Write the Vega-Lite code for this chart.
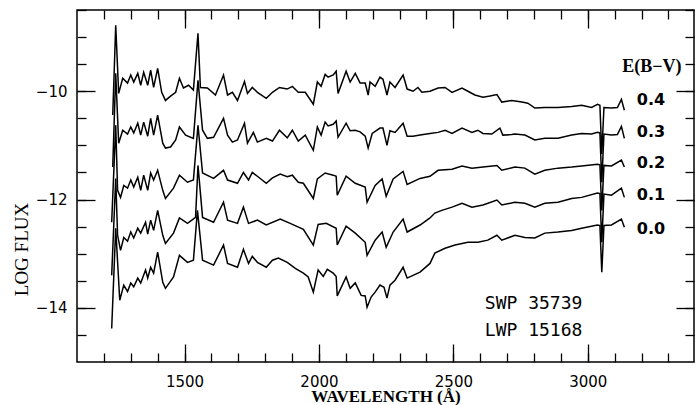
{
"$schema": "https://vega.github.io/schema/vega-lite/v6.json",
"width": 617, "height": 352,
"autosize": {"type": "none"},
"padding": {"left": 77, "top": 10, "right": 5, "bottom": 43},
"background": "white",
"config": {"view": {"stroke": "black", "strokeWidth": 1.5}, "axis": {"grid": false, "domain": false, "ticks": true, "zindex": 1, "tickColor": "black", "tickWidth": 1.3, "labelColor": "black", "labelFont": "DejaVu Sans", "labelFontSize": 15, "titleColor": "black"}},
"datasets": {
"spectra": [
{"ebv":"0.4","wl":1233,"logf":-10.44},{"ebv":"0.4","wl":1244,"logf":-8.78},{"ebv":"0.4","wl":1255,"logf":-10.04},{"ebv":"0.4","wl":1270,"logf":-9.76},{"ebv":"0.4","wl":1288,"logf":-9.85},{"ebv":"0.4","wl":1300,"logf":-9.70},{"ebv":"0.4","wl":1311,"logf":-9.83},{"ebv":"0.4","wl":1326,"logf":-9.67},{"ebv":"0.4","wl":1337,"logf":-9.89},{"ebv":"0.4","wl":1348,"logf":-9.65},{"ebv":"0.4","wl":1363,"logf":-9.89},{"ebv":"0.4","wl":1374,"logf":-9.61},{"ebv":"0.4","wl":1385,"logf":-9.93},{"ebv":"0.4","wl":1400,"logf":-9.58},{"ebv":"0.4","wl":1415,"logf":-10.02},{"ebv":"0.4","wl":1429,"logf":-10.17},{"ebv":"0.4","wl":1448,"logf":-10.09},{"ebv":"0.4","wl":1467,"logf":-10.02},{"ebv":"0.4","wl":1481,"logf":-9.76},{"ebv":"0.4","wl":1496,"logf":-9.94},{"ebv":"0.4","wl":1515,"logf":-9.89},{"ebv":"0.4","wl":1533,"logf":-9.98},{"ebv":"0.4","wl":1550,"logf":-8.93},{"ebv":"0.4","wl":1559,"logf":-9.93},{"ebv":"0.4","wl":1585,"logf":-9.94},{"ebv":"0.4","wl":1615,"logf":-10.07},{"ebv":"0.4","wl":1645,"logf":-9.70},{"ebv":"0.4","wl":1660,"logf":-10.07},{"ebv":"0.4","wl":1678,"logf":-10.02},{"ebv":"0.4","wl":1697,"logf":-10.17},{"ebv":"0.4","wl":1723,"logf":-9.82},{"ebv":"0.4","wl":1734,"logf":-10.04},{"ebv":"0.4","wl":1752,"logf":-9.93},{"ebv":"0.4","wl":1771,"logf":-10.02},{"ebv":"0.4","wl":1804,"logf":-10.13},{"ebv":"0.4","wl":1827,"logf":-10.02},{"ebv":"0.4","wl":1853,"logf":-9.93},{"ebv":"0.4","wl":1882,"logf":-9.96},{"ebv":"0.4","wl":1901,"logf":-9.91},{"ebv":"0.4","wl":1923,"logf":-10.02},{"ebv":"0.4","wl":1949,"logf":-10.02},{"ebv":"0.4","wl":1979,"logf":-10.24},{"ebv":"0.4","wl":1994,"logf":-9.83},{"ebv":"0.4","wl":2008,"logf":-9.91},{"ebv":"0.4","wl":2023,"logf":-9.69},{"ebv":"0.4","wl":2034,"logf":-9.74},{"ebv":"0.4","wl":2053,"logf":-9.70},{"ebv":"0.4","wl":2064,"logf":-9.63},{"ebv":"0.4","wl":2071,"logf":-10.04},{"ebv":"0.4","wl":2101,"logf":-9.63},{"ebv":"0.4","wl":2116,"logf":-9.83},{"ebv":"0.4","wl":2135,"logf":-9.67},{"ebv":"0.4","wl":2153,"logf":-9.85},{"ebv":"0.4","wl":2172,"logf":-9.85},{"ebv":"0.4","wl":2183,"logf":-10.07},{"ebv":"0.4","wl":2190,"logf":-9.83},{"ebv":"0.4","wl":2209,"logf":-9.91},{"ebv":"0.4","wl":2227,"logf":-9.74},{"ebv":"0.4","wl":2238,"logf":-9.78},{"ebv":"0.4","wl":2253,"logf":-10.07},{"ebv":"0.4","wl":2264,"logf":-9.83},{"ebv":"0.4","wl":2283,"logf":-9.93},{"ebv":"0.4","wl":2313,"logf":-9.70},{"ebv":"0.4","wl":2328,"logf":-9.96},{"ebv":"0.4","wl":2350,"logf":-10.00},{"ebv":"0.4","wl":2368,"logf":-9.93},{"ebv":"0.4","wl":2383,"logf":-10.02},{"ebv":"0.4","wl":2413,"logf":-10.00},{"ebv":"0.4","wl":2443,"logf":-9.94},{"ebv":"0.4","wl":2469,"logf":-9.93},{"ebv":"0.4","wl":2495,"logf":-10.02},{"ebv":"0.4","wl":2532,"logf":-9.94},{"ebv":"0.4","wl":2554,"logf":-10.00},{"ebv":"0.4","wl":2580,"logf":-10.07},{"ebv":"0.4","wl":2610,"logf":-10.11},{"ebv":"0.4","wl":2636,"logf":-10.09},{"ebv":"0.4","wl":2662,"logf":-10.06},{"ebv":"0.4","wl":2680,"logf":-10.20},{"ebv":"0.4","wl":2717,"logf":-10.17},{"ebv":"0.4","wl":2755,"logf":-10.20},{"ebv":"0.4","wl":2777,"logf":-10.22},{"ebv":"0.4","wl":2803,"logf":-10.31},{"ebv":"0.4","wl":2840,"logf":-10.30},{"ebv":"0.4","wl":2889,"logf":-10.30},{"ebv":"0.4","wl":2940,"logf":-10.28},{"ebv":"0.4","wl":2977,"logf":-10.26},{"ebv":"0.4","wl":3014,"logf":-10.30},{"ebv":"0.4","wl":3036,"logf":-10.24},{"ebv":"0.4","wl":3045,"logf":-10.26},{"ebv":"0.4","wl":3052,"logf":-11.16},{"ebv":"0.4","wl":3060,"logf":-10.30},{"ebv":"0.4","wl":3088,"logf":-10.31},{"ebv":"0.4","wl":3110,"logf":-10.30},{"ebv":"0.4","wl":3125,"logf":-10.15},{"ebv":"0.4","wl":3136,"logf":-10.35},
{"ebv":"0.3","wl":1233,"logf":-11.40},{"ebv":"0.3","wl":1244,"logf":-9.67},{"ebv":"0.3","wl":1255,"logf":-10.96},{"ebv":"0.3","wl":1270,"logf":-10.72},{"ebv":"0.3","wl":1288,"logf":-10.79},{"ebv":"0.3","wl":1300,"logf":-10.66},{"ebv":"0.3","wl":1311,"logf":-10.77},{"ebv":"0.3","wl":1326,"logf":-10.59},{"ebv":"0.3","wl":1337,"logf":-10.81},{"ebv":"0.3","wl":1348,"logf":-10.57},{"ebv":"0.3","wl":1363,"logf":-10.83},{"ebv":"0.3","wl":1374,"logf":-10.50},{"ebv":"0.3","wl":1385,"logf":-10.81},{"ebv":"0.3","wl":1400,"logf":-10.44},{"ebv":"0.3","wl":1419,"logf":-10.96},{"ebv":"0.3","wl":1429,"logf":-11.05},{"ebv":"0.3","wl":1448,"logf":-11.03},{"ebv":"0.3","wl":1467,"logf":-10.90},{"ebv":"0.3","wl":1481,"logf":-10.66},{"ebv":"0.3","wl":1504,"logf":-10.81},{"ebv":"0.3","wl":1533,"logf":-10.87},{"ebv":"0.3","wl":1550,"logf":-9.80},{"ebv":"0.3","wl":1567,"logf":-10.72},{"ebv":"0.3","wl":1585,"logf":-10.87},{"ebv":"0.3","wl":1608,"logf":-10.85},{"ebv":"0.3","wl":1645,"logf":-10.50},{"ebv":"0.3","wl":1660,"logf":-10.81},{"ebv":"0.3","wl":1678,"logf":-10.94},{"ebv":"0.3","wl":1697,"logf":-10.90},{"ebv":"0.3","wl":1723,"logf":-10.59},{"ebv":"0.3","wl":1734,"logf":-10.96},{"ebv":"0.3","wl":1756,"logf":-10.76},{"ebv":"0.3","wl":1771,"logf":-10.94},{"ebv":"0.3","wl":1804,"logf":-10.87},{"ebv":"0.3","wl":1827,"logf":-10.92},{"ebv":"0.3","wl":1853,"logf":-10.72},{"ebv":"0.3","wl":1882,"logf":-10.86},{"ebv":"0.3","wl":1901,"logf":-10.72},{"ebv":"0.3","wl":1923,"logf":-10.92},{"ebv":"0.3","wl":1949,"logf":-10.81},{"ebv":"0.3","wl":1979,"logf":-11.09},{"ebv":"0.3","wl":1994,"logf":-10.66},{"ebv":"0.3","wl":2008,"logf":-10.81},{"ebv":"0.3","wl":2023,"logf":-10.57},{"ebv":"0.3","wl":2034,"logf":-10.64},{"ebv":"0.3","wl":2053,"logf":-10.61},{"ebv":"0.3","wl":2064,"logf":-10.55},{"ebv":"0.3","wl":2071,"logf":-10.85},{"ebv":"0.3","wl":2101,"logf":-10.59},{"ebv":"0.3","wl":2116,"logf":-10.73},{"ebv":"0.3","wl":2135,"logf":-10.72},{"ebv":"0.3","wl":2153,"logf":-10.75},{"ebv":"0.3","wl":2172,"logf":-10.83},{"ebv":"0.3","wl":2183,"logf":-11.05},{"ebv":"0.3","wl":2198,"logf":-10.78},{"ebv":"0.3","wl":2227,"logf":-10.68},{"ebv":"0.3","wl":2238,"logf":-10.68},{"ebv":"0.3","wl":2253,"logf":-11.00},{"ebv":"0.3","wl":2264,"logf":-10.73},{"ebv":"0.3","wl":2283,"logf":-10.76},{"ebv":"0.3","wl":2313,"logf":-10.59},{"ebv":"0.3","wl":2328,"logf":-10.83},{"ebv":"0.3","wl":2350,"logf":-10.83},{"ebv":"0.3","wl":2376,"logf":-10.81},{"ebv":"0.3","wl":2413,"logf":-10.78},{"ebv":"0.3","wl":2443,"logf":-10.76},{"ebv":"0.3","wl":2469,"logf":-10.72},{"ebv":"0.3","wl":2495,"logf":-10.78},{"ebv":"0.3","wl":2532,"logf":-10.68},{"ebv":"0.3","wl":2569,"logf":-10.76},{"ebv":"0.3","wl":2591,"logf":-10.72},{"ebv":"0.3","wl":2610,"logf":-10.78},{"ebv":"0.3","wl":2643,"logf":-10.79},{"ebv":"0.3","wl":2673,"logf":-10.68},{"ebv":"0.3","wl":2684,"logf":-10.81},{"ebv":"0.3","wl":2717,"logf":-10.80},{"ebv":"0.3","wl":2729,"logf":-10.79},{"ebv":"0.3","wl":2766,"logf":-10.81},{"ebv":"0.3","wl":2803,"logf":-10.90},{"ebv":"0.3","wl":2840,"logf":-10.87},{"ebv":"0.3","wl":2889,"logf":-10.87},{"ebv":"0.3","wl":2940,"logf":-10.81},{"ebv":"0.3","wl":2977,"logf":-10.78},{"ebv":"0.3","wl":3014,"logf":-10.79},{"ebv":"0.3","wl":3036,"logf":-10.76},{"ebv":"0.3","wl":3045,"logf":-10.77},{"ebv":"0.3","wl":3052,"logf":-11.68},{"ebv":"0.3","wl":3060,"logf":-10.79},{"ebv":"0.3","wl":3088,"logf":-10.81},{"ebv":"0.3","wl":3110,"logf":-10.80},{"ebv":"0.3","wl":3125,"logf":-10.65},{"ebv":"0.3","wl":3136,"logf":-10.87},
{"ebv":"0.2","wl":1229,"logf":-12.42},{"ebv":"0.2","wl":1244,"logf":-10.63},{"ebv":"0.2","wl":1251,"logf":-11.83},{"ebv":"0.2","wl":1262,"logf":-11.96},{"ebv":"0.2","wl":1274,"logf":-11.74},{"ebv":"0.2","wl":1288,"logf":-11.79},{"ebv":"0.2","wl":1300,"logf":-11.64},{"ebv":"0.2","wl":1311,"logf":-11.77},{"ebv":"0.2","wl":1326,"logf":-11.59},{"ebv":"0.2","wl":1337,"logf":-11.83},{"ebv":"0.2","wl":1348,"logf":-11.55},{"ebv":"0.2","wl":1363,"logf":-11.83},{"ebv":"0.2","wl":1374,"logf":-11.51},{"ebv":"0.2","wl":1385,"logf":-11.64},{"ebv":"0.2","wl":1400,"logf":-11.46},{"ebv":"0.2","wl":1419,"logf":-11.83},{"ebv":"0.2","wl":1429,"logf":-11.98},{"ebv":"0.2","wl":1459,"logf":-11.79},{"ebv":"0.2","wl":1481,"logf":-11.55},{"ebv":"0.2","wl":1511,"logf":-11.68},{"ebv":"0.2","wl":1533,"logf":-11.64},{"ebv":"0.2","wl":1550,"logf":-10.63},{"ebv":"0.2","wl":1567,"logf":-11.51},{"ebv":"0.2","wl":1608,"logf":-11.61},{"ebv":"0.2","wl":1645,"logf":-11.46},{"ebv":"0.2","wl":1660,"logf":-11.64},{"ebv":"0.2","wl":1697,"logf":-11.70},{"ebv":"0.2","wl":1719,"logf":-11.50},{"ebv":"0.2","wl":1738,"logf":-11.64},{"ebv":"0.2","wl":1752,"logf":-11.50},{"ebv":"0.2","wl":1771,"logf":-11.57},{"ebv":"0.2","wl":1804,"logf":-11.70},{"ebv":"0.2","wl":1827,"logf":-11.60},{"ebv":"0.2","wl":1856,"logf":-11.53},{"ebv":"0.2","wl":1882,"logf":-11.58},{"ebv":"0.2","wl":1901,"logf":-11.55},{"ebv":"0.2","wl":1923,"logf":-11.68},{"ebv":"0.2","wl":1942,"logf":-11.70},{"ebv":"0.2","wl":1979,"logf":-11.98},{"ebv":"0.2","wl":1994,"logf":-11.62},{"ebv":"0.2","wl":2023,"logf":-11.51},{"ebv":"0.2","wl":2053,"logf":-11.55},{"ebv":"0.2","wl":2064,"logf":-11.57},{"ebv":"0.2","wl":2068,"logf":-11.92},{"ebv":"0.2","wl":2101,"logf":-11.57},{"ebv":"0.2","wl":2135,"logf":-11.70},{"ebv":"0.2","wl":2172,"logf":-11.77},{"ebv":"0.2","wl":2179,"logf":-12.05},{"ebv":"0.2","wl":2209,"logf":-11.74},{"ebv":"0.2","wl":2235,"logf":-11.62},{"ebv":"0.2","wl":2250,"logf":-11.94},{"ebv":"0.2","wl":2276,"logf":-11.62},{"ebv":"0.2","wl":2313,"logf":-11.48},{"ebv":"0.2","wl":2328,"logf":-11.72},{"ebv":"0.2","wl":2376,"logf":-11.61},{"ebv":"0.2","wl":2413,"logf":-11.57},{"ebv":"0.2","wl":2443,"logf":-11.46},{"ebv":"0.2","wl":2495,"logf":-11.44},{"ebv":"0.2","wl":2532,"logf":-11.38},{"ebv":"0.2","wl":2569,"logf":-11.42},{"ebv":"0.2","wl":2610,"logf":-11.40},{"ebv":"0.2","wl":2662,"logf":-11.37},{"ebv":"0.2","wl":2680,"logf":-11.46},{"ebv":"0.2","wl":2729,"logf":-11.40},{"ebv":"0.2","wl":2766,"logf":-11.42},{"ebv":"0.2","wl":2803,"logf":-11.53},{"ebv":"0.2","wl":2840,"logf":-11.46},{"ebv":"0.2","wl":2889,"logf":-11.42},{"ebv":"0.2","wl":2940,"logf":-11.40},{"ebv":"0.2","wl":2977,"logf":-11.38},{"ebv":"0.2","wl":3036,"logf":-11.35},{"ebv":"0.2","wl":3045,"logf":-11.36},{"ebv":"0.2","wl":3052,"logf":-12.20},{"ebv":"0.2","wl":3060,"logf":-11.37},{"ebv":"0.2","wl":3088,"logf":-11.38},{"ebv":"0.2","wl":3125,"logf":-11.27},{"ebv":"0.2","wl":3136,"logf":-11.40},
{"ebv":"0.1","wl":1229,"logf":-13.40},{"ebv":"0.1","wl":1244,"logf":-11.61},{"ebv":"0.1","wl":1251,"logf":-12.66},{"ebv":"0.1","wl":1262,"logf":-12.94},{"ebv":"0.1","wl":1274,"logf":-12.70},{"ebv":"0.1","wl":1288,"logf":-12.77},{"ebv":"0.1","wl":1300,"logf":-12.60},{"ebv":"0.1","wl":1311,"logf":-12.71},{"ebv":"0.1","wl":1326,"logf":-12.53},{"ebv":"0.1","wl":1337,"logf":-12.62},{"ebv":"0.1","wl":1355,"logf":-12.42},{"ebv":"0.1","wl":1363,"logf":-12.64},{"ebv":"0.1","wl":1374,"logf":-12.38},{"ebv":"0.1","wl":1385,"logf":-12.57},{"ebv":"0.1","wl":1400,"logf":-12.20},{"ebv":"0.1","wl":1419,"logf":-12.66},{"ebv":"0.1","wl":1429,"logf":-12.81},{"ebv":"0.1","wl":1459,"logf":-12.62},{"ebv":"0.1","wl":1481,"logf":-12.34},{"ebv":"0.1","wl":1511,"logf":-12.44},{"ebv":"0.1","wl":1541,"logf":-12.33},{"ebv":"0.1","wl":1550,"logf":-11.37},{"ebv":"0.1","wl":1567,"logf":-12.33},{"ebv":"0.1","wl":1608,"logf":-12.42},{"ebv":"0.1","wl":1645,"logf":-12.05},{"ebv":"0.1","wl":1660,"logf":-12.38},{"ebv":"0.1","wl":1697,"logf":-12.44},{"ebv":"0.1","wl":1719,"logf":-12.14},{"ebv":"0.1","wl":1738,"logf":-12.44},{"ebv":"0.1","wl":1771,"logf":-12.38},{"ebv":"0.1","wl":1804,"logf":-12.47},{"ebv":"0.1","wl":1856,"logf":-12.36},{"ebv":"0.1","wl":1893,"logf":-12.44},{"ebv":"0.1","wl":1942,"logf":-12.55},{"ebv":"0.1","wl":1979,"logf":-12.84},{"ebv":"0.1","wl":1997,"logf":-12.46},{"ebv":"0.1","wl":2027,"logf":-12.44},{"ebv":"0.1","wl":2064,"logf":-12.53},{"ebv":"0.1","wl":2068,"logf":-12.84},{"ebv":"0.1","wl":2101,"logf":-12.49},{"ebv":"0.1","wl":2135,"logf":-12.62},{"ebv":"0.1","wl":2172,"logf":-12.79},{"ebv":"0.1","wl":2179,"logf":-13.03},{"ebv":"0.1","wl":2209,"logf":-12.75},{"ebv":"0.1","wl":2235,"logf":-12.60},{"ebv":"0.1","wl":2250,"logf":-12.88},{"ebv":"0.1","wl":2276,"logf":-12.60},{"ebv":"0.1","wl":2313,"logf":-12.36},{"ebv":"0.1","wl":2328,"logf":-12.60},{"ebv":"0.1","wl":2376,"logf":-12.47},{"ebv":"0.1","wl":2413,"logf":-12.34},{"ebv":"0.1","wl":2431,"logf":-12.25},{"ebv":"0.1","wl":2457,"logf":-12.20},{"ebv":"0.1","wl":2495,"logf":-12.14},{"ebv":"0.1","wl":2532,"logf":-12.07},{"ebv":"0.1","wl":2569,"logf":-12.14},{"ebv":"0.1","wl":2610,"logf":-12.10},{"ebv":"0.1","wl":2662,"logf":-12.01},{"ebv":"0.1","wl":2680,"logf":-12.10},{"ebv":"0.1","wl":2729,"logf":-12.05},{"ebv":"0.1","wl":2766,"logf":-12.07},{"ebv":"0.1","wl":2803,"logf":-12.14},{"ebv":"0.1","wl":2840,"logf":-12.07},{"ebv":"0.1","wl":2889,"logf":-12.05},{"ebv":"0.1","wl":2940,"logf":-11.98},{"ebv":"0.1","wl":2977,"logf":-11.96},{"ebv":"0.1","wl":3036,"logf":-11.88},{"ebv":"0.1","wl":3045,"logf":-11.89},{"ebv":"0.1","wl":3052,"logf":-12.79},{"ebv":"0.1","wl":3060,"logf":-11.90},{"ebv":"0.1","wl":3088,"logf":-11.92},{"ebv":"0.1","wl":3125,"logf":-11.79},{"ebv":"0.1","wl":3136,"logf":-11.96},
{"ebv":"0.0","wl":1229,"logf":-14.38},{"ebv":"0.0","wl":1244,"logf":-12.53},{"ebv":"0.0","wl":1259,"logf":-13.86},{"ebv":"0.0","wl":1274,"logf":-13.58},{"ebv":"0.0","wl":1288,"logf":-13.70},{"ebv":"0.0","wl":1300,"logf":-13.54},{"ebv":"0.0","wl":1311,"logf":-13.61},{"ebv":"0.0","wl":1326,"logf":-13.45},{"ebv":"0.0","wl":1337,"logf":-13.54},{"ebv":"0.0","wl":1355,"logf":-13.30},{"ebv":"0.0","wl":1363,"logf":-13.45},{"ebv":"0.0","wl":1374,"logf":-13.25},{"ebv":"0.0","wl":1385,"logf":-13.36},{"ebv":"0.0","wl":1400,"logf":-12.97},{"ebv":"0.0","wl":1419,"logf":-13.53},{"ebv":"0.0","wl":1429,"logf":-13.64},{"ebv":"0.0","wl":1459,"logf":-13.43},{"ebv":"0.0","wl":1481,"logf":-13.03},{"ebv":"0.0","wl":1511,"logf":-13.16},{"ebv":"0.0","wl":1533,"logf":-13.12},{"ebv":"0.0","wl":1548,"logf":-12.20},{"ebv":"0.0","wl":1567,"logf":-13.12},{"ebv":"0.0","wl":1608,"logf":-13.21},{"ebv":"0.0","wl":1645,"logf":-12.84},{"ebv":"0.0","wl":1660,"logf":-13.18},{"ebv":"0.0","wl":1697,"logf":-13.25},{"ebv":"0.0","wl":1719,"logf":-12.92},{"ebv":"0.0","wl":1738,"logf":-13.18},{"ebv":"0.0","wl":1752,"logf":-13.05},{"ebv":"0.0","wl":1771,"logf":-13.16},{"ebv":"0.0","wl":1804,"logf":-13.25},{"ebv":"0.0","wl":1827,"logf":-13.12},{"ebv":"0.0","wl":1849,"logf":-13.08},{"ebv":"0.0","wl":1882,"logf":-13.16},{"ebv":"0.0","wl":1912,"logf":-13.27},{"ebv":"0.0","wl":1942,"logf":-13.36},{"ebv":"0.0","wl":1960,"logf":-13.43},{"ebv":"0.0","wl":1979,"logf":-13.71},{"ebv":"0.0","wl":1997,"logf":-13.30},{"ebv":"0.0","wl":2016,"logf":-13.42},{"ebv":"0.0","wl":2031,"logf":-13.29},{"ebv":"0.0","wl":2053,"logf":-13.36},{"ebv":"0.0","wl":2064,"logf":-13.42},{"ebv":"0.0","wl":2068,"logf":-13.78},{"ebv":"0.0","wl":2101,"logf":-13.43},{"ebv":"0.0","wl":2116,"logf":-13.64},{"ebv":"0.0","wl":2135,"logf":-13.54},{"ebv":"0.0","wl":2157,"logf":-13.77},{"ebv":"0.0","wl":2172,"logf":-13.78},{"ebv":"0.0","wl":2179,"logf":-13.99},{"ebv":"0.0","wl":2194,"logf":-13.80},{"ebv":"0.0","wl":2209,"logf":-13.71},{"ebv":"0.0","wl":2227,"logf":-13.58},{"ebv":"0.0","wl":2242,"logf":-13.62},{"ebv":"0.0","wl":2253,"logf":-13.82},{"ebv":"0.0","wl":2264,"logf":-13.58},{"ebv":"0.0","wl":2283,"logf":-13.49},{"ebv":"0.0","wl":2313,"logf":-13.25},{"ebv":"0.0","wl":2328,"logf":-13.45},{"ebv":"0.0","wl":2350,"logf":-13.40},{"ebv":"0.0","wl":2376,"logf":-13.34},{"ebv":"0.0","wl":2413,"logf":-13.18},{"ebv":"0.0","wl":2431,"logf":-12.99},{"ebv":"0.0","wl":2469,"logf":-12.90},{"ebv":"0.0","wl":2506,"logf":-12.84},{"ebv":"0.0","wl":2554,"logf":-12.79},{"ebv":"0.0","wl":2591,"logf":-12.79},{"ebv":"0.0","wl":2628,"logf":-12.75},{"ebv":"0.0","wl":2662,"logf":-12.66},{"ebv":"0.0","wl":2680,"logf":-12.75},{"ebv":"0.0","wl":2729,"logf":-12.66},{"ebv":"0.0","wl":2766,"logf":-12.70},{"ebv":"0.0","wl":2803,"logf":-12.71},{"ebv":"0.0","wl":2840,"logf":-12.62},{"ebv":"0.0","wl":2889,"logf":-12.60},{"ebv":"0.0","wl":2940,"logf":-12.57},{"ebv":"0.0","wl":2977,"logf":-12.53},{"ebv":"0.0","wl":3036,"logf":-12.47},{"ebv":"0.0","wl":3045,"logf":-12.48},{"ebv":"0.0","wl":3052,"logf":-13.34},{"ebv":"0.0","wl":3060,"logf":-12.48},{"ebv":"0.0","wl":3088,"logf":-12.47},{"ebv":"0.0","wl":3125,"logf":-12.36},{"ebv":"0.0","wl":3136,"logf":-12.51}
],
"ebvhead": [{"label":"E(B−V)","wl":3238,"logf":-9.55}],
"ebvvals": [{"label":"0.4","wl":3235,"logf":-10.17},{"label":"0.3","wl":3235,"logf":-10.75},{"label":"0.2","wl":3235,"logf":-11.33},{"label":"0.1","wl":3235,"logf":-11.92},{"label":"0.0","wl":3235,"logf":-12.55}],
"ids": [{"label":"SWP 35739","wl":2617,"logf":-13.93},{"label":"LWP 15168","wl":2617,"logf":-14.43}]
},
"layer": [
{"data": {"name": "spectra"},
 "mark": {"type": "line", "color": "black", "strokeWidth": 1.5},
 "encoding": {
  "x": {"field": "wl", "type": "quantitative", "scale": {"domain": [1100, 3395], "nice": false, "zero": false},
        "axis": {"orient": "bottom", "values": [1500,2000,2500,3000], "format": "d", "tickSize": -18, "labelPadding": 30, "title": "WAVELENGTH (Å)", "titleFont": "Liberation Serif", "titleFontWeight": "bold", "titleFontSize": 17, "titleBaseline": "alphabetic", "titleY": 39}},
  "y": {"field": "logf", "type": "quantitative", "scale": {"domain": [-15, -8.5], "nice": false, "zero": false},
        "axis": {"orient": "left", "values": [-14,-12,-10], "format": "d", "tickSize": -18, "labelPadding": 28, "title": "LOG FLUX", "titleFont": "Liberation Serif", "titleFontWeight": "normal", "titleFontSize": 19, "titleAngle": 270, "titleBaseline": "alphabetic", "titleAlign": "center", "titleX": -50, "titleY": 239}},
  "detail": {"field": "ebv", "type": "nominal"}
 }},
{"data": {"name": "ebvhead"},
 "mark": {"type": "text", "font": "Liberation Serif", "fontWeight": "bold", "fontSize": 18, "align": "center", "baseline": "middle", "color": "black"},
 "encoding": {
  "x": {"field": "wl", "type": "quantitative", "scale": {"domain": [1100, 3395], "nice": false, "zero": false},
        "axis": {"orient": "bottom", "values": [1200,1300,1400,1500,1600,1700,1800,1900,2000,2100,2200,2300,2400,2500,2600,2700,2800,2900,3000,3100,3200,3300], "labels": false, "tickSize": -9, "title": null}},
  "y": {"field": "logf", "type": "quantitative", "scale": {"domain": [-15, -8.5], "nice": false, "zero": false},
        "axis": {"orient": "left", "values": [-14.5,-14,-13.5,-13,-12.5,-12,-11.5,-11,-10.5,-10,-9.5,-9,-8.5], "labels": false, "tickSize": -9, "title": null}},
  "text": {"field": "label"}
 }},
{"data": {"name": "ebvvals"},
 "mark": {"type": "text", "font": "DejaVu Sans", "fontWeight": "bold", "fontSize": 16, "align": "center", "baseline": "middle", "color": "black"},
 "encoding": {
  "x": {"field": "wl", "type": "quantitative", "scale": {"domain": [1100, 3395], "nice": false, "zero": false},
        "axis": {"orient": "top", "values": [1500,2000,2500,3000], "labels": false, "tickSize": -18, "title": null}},
  "y": {"field": "logf", "type": "quantitative", "scale": {"domain": [-15, -8.5], "nice": false, "zero": false},
        "axis": {"orient": "right", "values": [-14,-12,-10], "labels": false, "tickSize": -18, "title": null}},
  "text": {"field": "label"}
 }},
{"data": {"name": "ids"},
 "mark": {"type": "text", "font": "DejaVu Sans Mono", "fontSize": 18, "align": "left", "baseline": "middle", "color": "black"},
 "encoding": {
  "x": {"field": "wl", "type": "quantitative", "scale": {"domain": [1100, 3395], "nice": false, "zero": false},
        "axis": {"orient": "top", "values": [1200,1300,1400,1500,1600,1700,1800,1900,2000,2100,2200,2300,2400,2500,2600,2700,2800,2900,3000,3100,3200,3300], "labels": false, "tickSize": -9, "title": null}},
  "y": {"field": "logf", "type": "quantitative", "scale": {"domain": [-15, -8.5], "nice": false, "zero": false},
        "axis": {"orient": "right", "values": [-14.5,-14,-13.5,-13,-12.5,-12,-11.5,-11,-10.5,-10,-9.5,-9,-8.5], "labels": false, "tickSize": -9, "title": null}},
  "text": {"field": "label"}
 }}
],
"resolve": {"axis": {"x": "independent", "y": "independent"}}
}
